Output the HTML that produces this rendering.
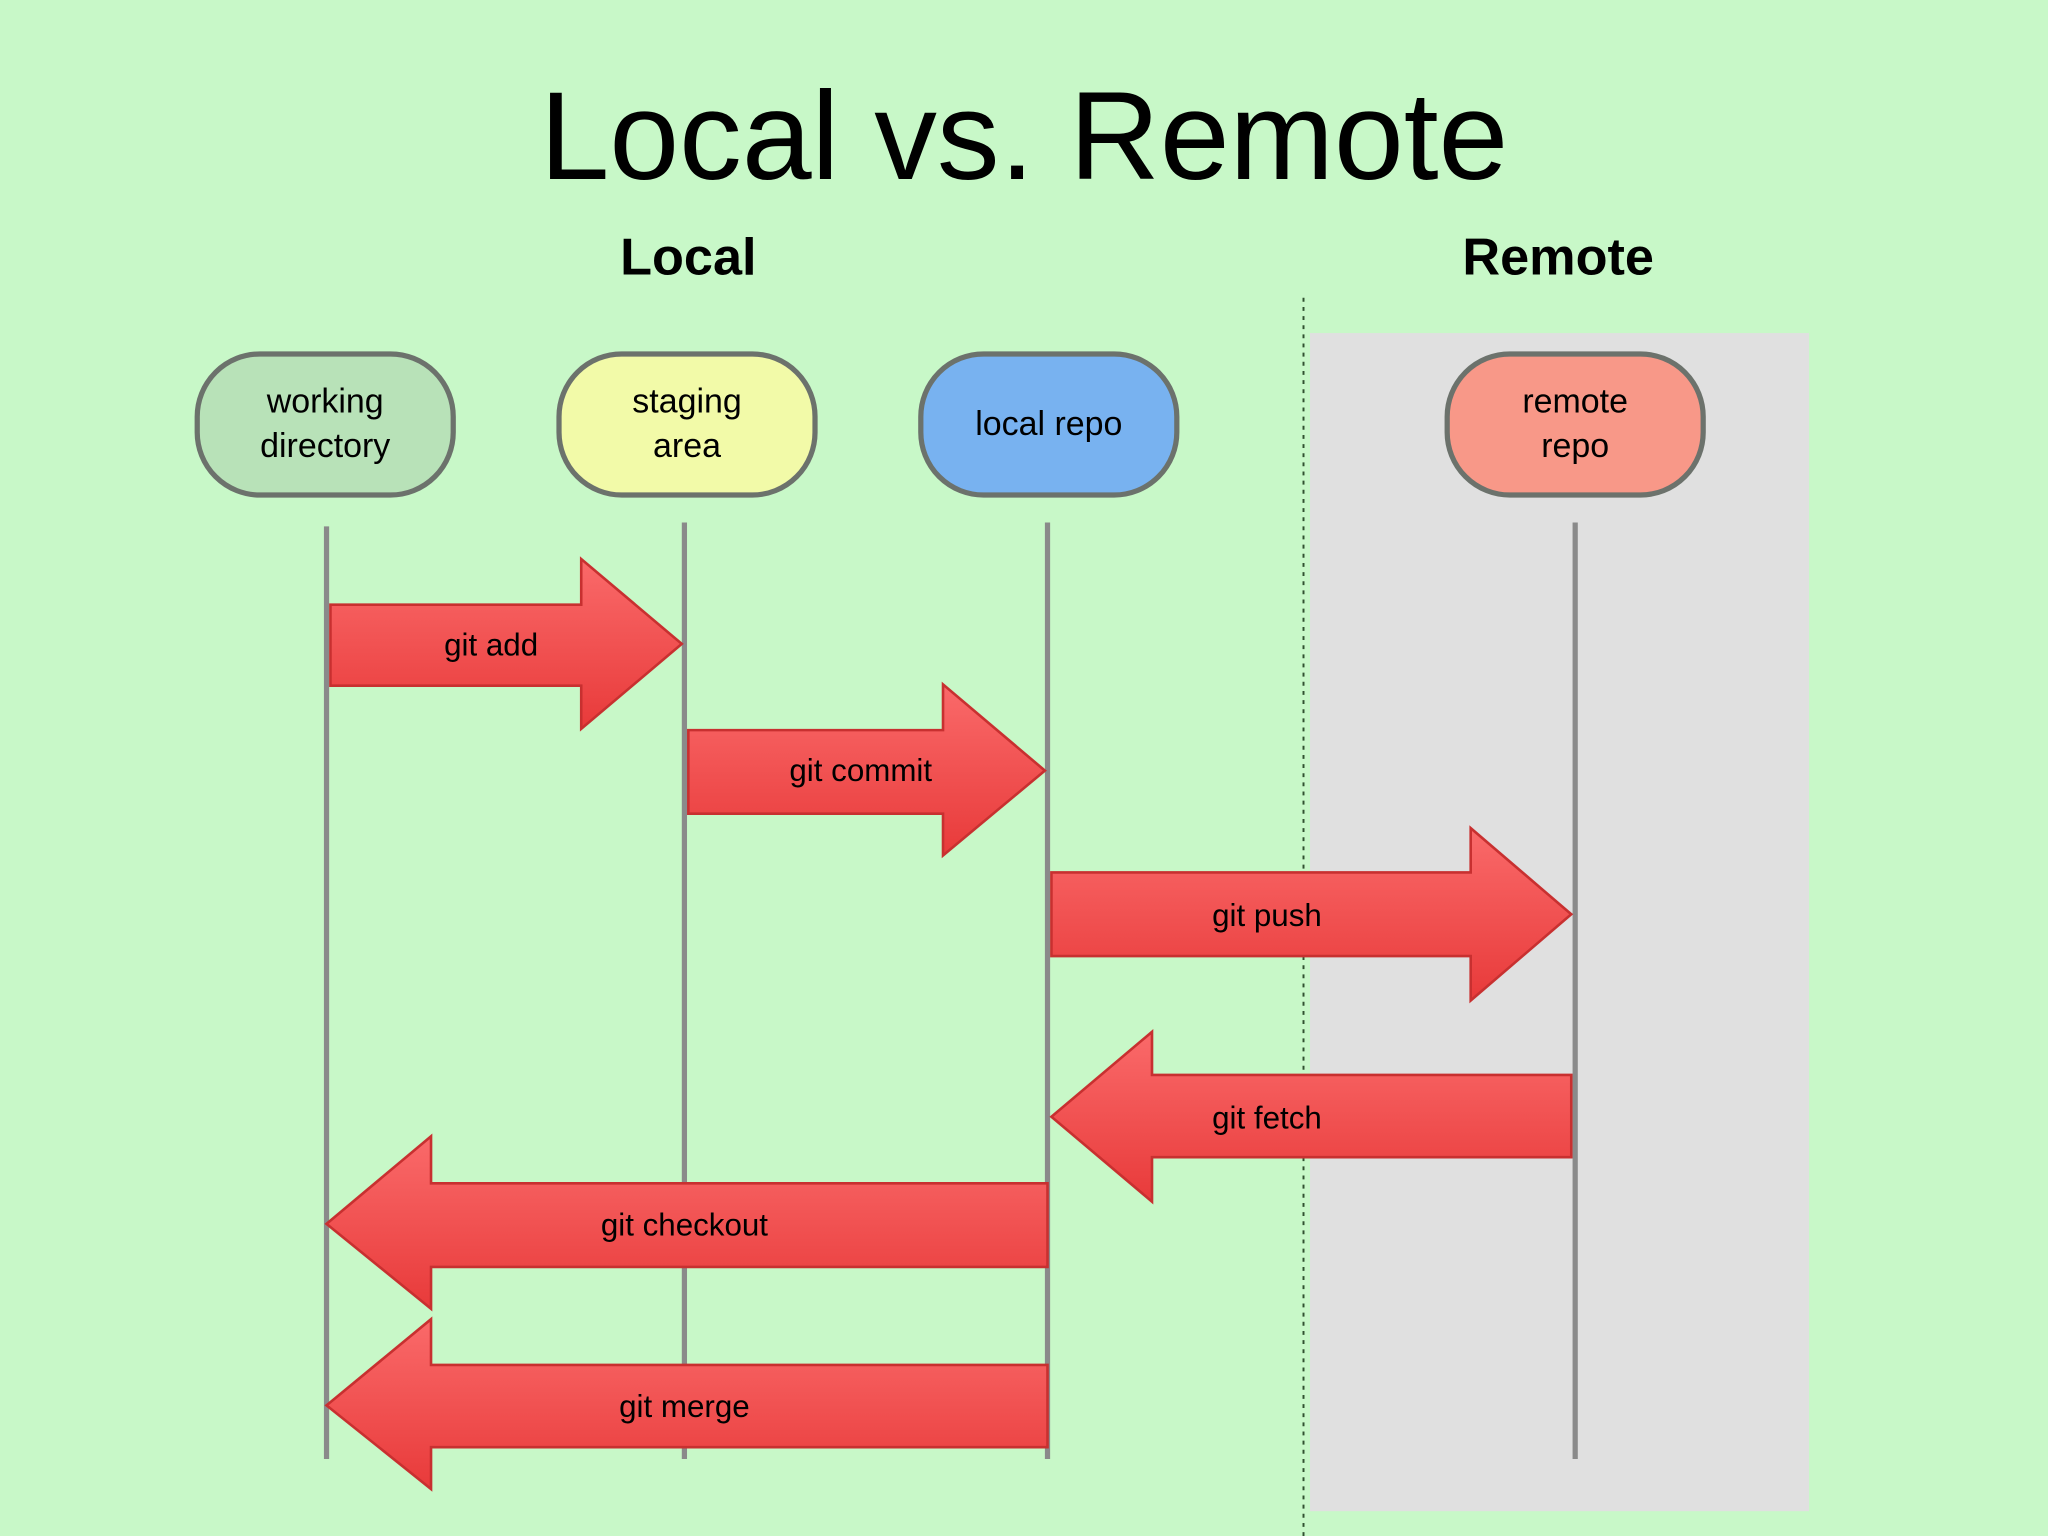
<!DOCTYPE html>
<html><head><meta charset="utf-8"><style>
html,body{margin:0;padding:0;background:#c8f8c8;}
svg{display:block;}
text{font-family:"Liberation Sans",Arial,sans-serif;fill:#000;}
</style></head><body>
<svg width="2048" height="1536" viewBox="0 0 1568 1176" xmlns="http://www.w3.org/2000/svg">
<defs>
<linearGradient id="rg" x1="0" y1="0" x2="0" y2="1">
<stop offset="0" stop-color="#fa6a6a"/><stop offset="1" stop-color="#e83a3a"/>
</linearGradient>
</defs>
<rect width="1568" height="1176" fill="#c8f8c8"/>
<rect x="1003" y="255" width="382" height="902" fill="#e0e0e0"/>
<line x1="998" y1="228" x2="998" y2="1176" stroke="#305030" stroke-width="1.5" stroke-dasharray="3,4"/>
<text x="784" y="137" font-size="96" text-anchor="middle">Local vs. Remote</text>
<text x="527" y="210" font-size="40" font-weight="bold" text-anchor="middle">Local</text>
<text x="1193" y="210" font-size="40" font-weight="bold" text-anchor="middle">Remote</text>
<g stroke="#8a8a8a" stroke-width="4">
<line x1="250" y1="403" x2="250" y2="1117"/>
<line x1="524" y1="400" x2="524" y2="1117"/>
<line x1="802" y1="400" x2="802" y2="1117"/>
<line x1="1206" y1="400" x2="1206" y2="1117"/>
</g>
<g stroke="#6c726c" stroke-width="4">
<rect x="151" y="271" width="196" height="108" rx="48" fill="#b8e2b8"/>
<rect x="428" y="271" width="196" height="108" rx="48" fill="#f2faa8"/>
<rect x="705" y="271" width="196" height="108" rx="48" fill="#78b2f0"/>
<rect x="1108" y="271" width="196" height="108" rx="48" fill="#f89888"/>
</g>
<g font-size="26" text-anchor="middle">
<text x="249" y="316">working</text><text x="249" y="350">directory</text>
<text x="526" y="316">staging</text><text x="526" y="350">area</text>
<text x="803" y="333">local repo</text>
<text x="1206" y="316">remote</text><text x="1206" y="350">repo</text>
</g>
<g fill="url(#rg)" stroke="#c83030" stroke-width="2">
<path d="M253 463 H445 V428 L522 493 L445 558 V525 H253 Z"/>
<path d="M527 559 H722 V524 L800 590 L722 655 V623 H527 Z"/>
<path d="M805 668 H1126 V634 L1203 700 L1126 766 V732 H805 Z"/>
<path d="M1203 823 H882 V790 L805 855 L882 920 V886 H1203 Z"/>
<path d="M802 906 H330 V870 L250 937 L330 1002 V970 H802 Z"/>
<path d="M802 1045 H330 V1010 L250 1076 L330 1140 V1108 H802 Z"/>
</g>
<g font-size="24" text-anchor="middle">
<text x="376" y="502">git add</text>
<text x="659" y="598">git commit</text>
<text x="970" y="709">git push</text>
<text x="970" y="864">git fetch</text>
<text x="524" y="946">git checkout</text>
<text x="524" y="1085">git merge</text>
</g>
</svg>
</body></html>
